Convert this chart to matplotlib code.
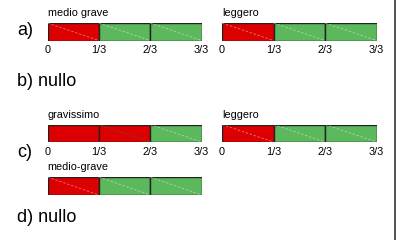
import matplotlib
matplotlib.use("Agg")
import matplotlib.pyplot as plt
from matplotlib.lines import Line2D

plt.rcParams['font.family'] = ['Liberation Sans', 'DejaVu Sans']

# data
tick_labels = ["0", "1/3", "2/3", "3/3"]
row_labels = ["a)", "b) nullo", "c)", "d) nullo"]
bar_titles = ["medio grave", "leggero", "gravissimo", "leggero", "medio-grave"]
# 1 = red (affected third), 0 = green
bar_segments = [
    [1, 0, 0],
    [1, 0, 0],
    [1, 1, 0],
    [1, 0, 0],
    [1, 0, 0],
]
show_ticks = [True, True, True, True, False]

RED = "#DD0000"
GREEN = "#5CB85C"
EDGE = "#222222"
W, H = 396, 240

fig = plt.figure(figsize=(W / 100, H / 100), dpi=100)

# layout in pixels: (left, top, right, bottom)
boxes = [
    (47.5, 23, 201.5, 40.5),
    (222, 23, 376.5, 40.5),
    (47.5, 124.5, 201.5, 142),
    (222, 124.5, 376.5, 142),
    (47.5, 177, 201.5, 195),
]
title_y = [16.5, 16.5, 118.5, 118.5, 170.5]

for k, (segs, box, ty, st) in enumerate(zip(bar_segments, boxes, title_y, show_ticks)):
    l, t, r, b = box
    ax = fig.add_axes([l / W, 1 - b / H, (r - l) / W, (b - t) / H])
    for i, s in enumerate(segs):
        ax.barh(0, 1, left=i, height=1, color=RED if s else GREEN,
                edgecolor=EDGE, linewidth=1.0)
        # faint diagonal
        if k == 2 and i == 0:
            continue
        if k == 2 and i == 1:
            dcol, alpha, ls = "#8B3A1A", 0.8, "-"
        else:
            dcol, alpha, ls = "white", 0.45, (0, (3, 2))
        ax.plot([i, i + 1], [0.5, -0.5], color=dcol, alpha=alpha,
                linewidth=0.6, linestyle=ls)
    ax.set_xlim(0, 3)
    ax.set_ylim(-0.5, 0.5)
    for sp in ax.spines.values():
        sp.set_visible(False)
    ax.set_yticks([])
    if st:
        ax.set_xticks(range(len(tick_labels)))
        ax.set_xticklabels(tick_labels, fontsize=7.8)
        ax.tick_params(axis='x', length=0, pad=3.5)
    else:
        ax.set_xticks([])
    fig.text(l / W, 1 - ty / H, bar_titles[k], fontsize=7.8, ha='left', va='baseline')

row_y = [30.5, 82, 152.5, 217.5]
for lab, y in zip(row_labels, row_y):
    fig.text(17 / W, 1 - y / H, lab, fontsize=13, ha='left', va='center')

fig.add_artist(Line2D([394.5 / W, 394.5 / W], [0, 1], color="#333333",
                      linewidth=1.2, transform=fig.transFigure))

fig.savefig("out.png", dpi=100)
